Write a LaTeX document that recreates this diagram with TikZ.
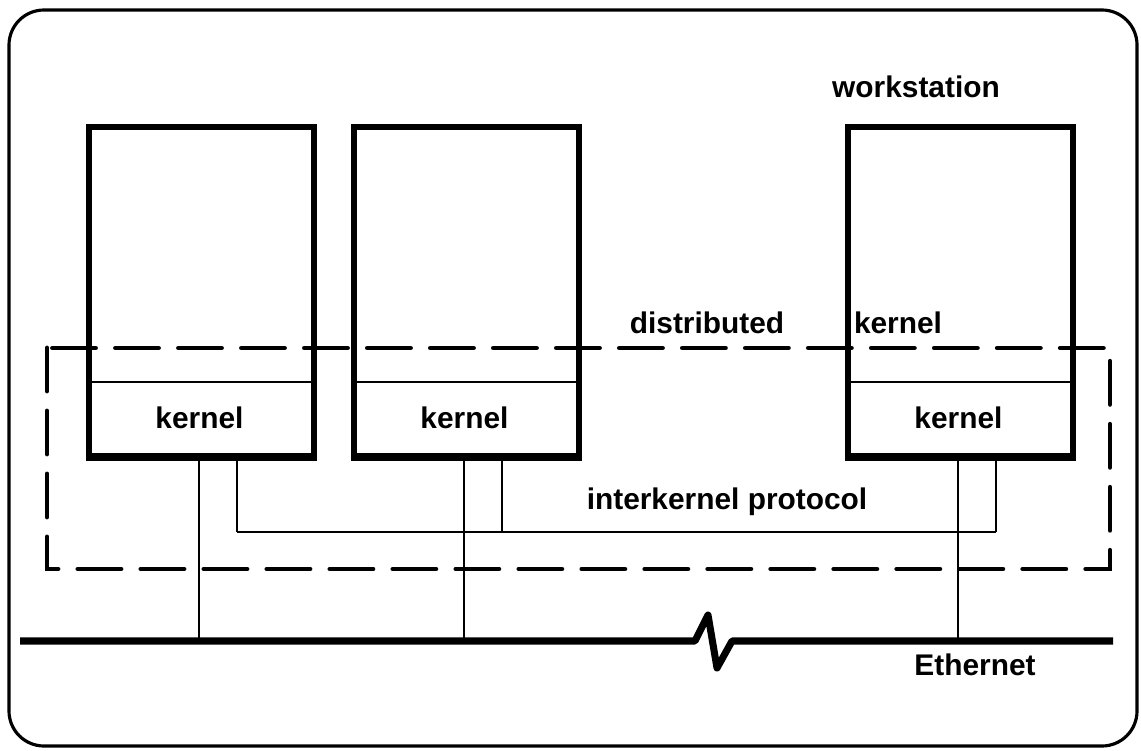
\documentclass[tikz,border=0pt]{standalone}
\usepackage{fontspec}
\setmainfont{Liberation Sans}
\usetikzlibrary{calc}

\tikzset{
  lbl/.style={font=\fontsize{17}{20}\selectfont\bfseries},
  wsbox/.style={draw, line width=3.4pt, minimum width=4.5cm, minimum height=6.62cm,
    anchor=north west, inner sep=0pt},
  kbox/.style={draw, line width=1.1pt, minimum width=4.5cm, minimum height=1.44cm,
    anchor=south west, inner sep=0pt, lbl},
  wire/.style={line width=1.1pt},
  ether/.style={line width=4pt, line join=round},
  distbox/.style={line width=2.8pt, dash pattern=on 0.86cm off 0.4cm, line cap=round},
}

\begin{document}
\begin{tikzpicture}[x=0.02cm, y=-0.02cm]
      \useasboundingbox (0,0) rectangle (1141,750);
      \draw[line width=1.8pt, rounded corners=0.7cm] (9,10) rectangle (1137,746);

      % distributed kernel
      \draw[distbox] (47,348) rectangle (1110,569);

      % workstations
      \foreach \n/\x in {1/86, 2/351, 3/845} {
        \node[wsbox] (ws\n) at (\x,124) {};
        \node[kbox] (k\n) at (\x,455) {kernel};
      }

      % ethernet with break
      \draw[ether] (20,641) coordinate (ethL) -- (695,641) -- (708,615)
        -- (717,668) -- (732,641) -- (1113,641) coordinate (ethR);
      \coordinate (pl) at (0,532);

      \foreach \n in {1,2,3} {
        \coordinate (p\n) at ($(k\n.south)+(38,0)$);
        \draw[wire] (k\n.south) -- (k\n.south |- ethL);
        \draw[wire] (p\n) -- (p\n |- pl);
      }
      \draw[wire] (p1 |- pl) -- (p3 |- pl);

      \node[lbl] (wslbl) at (916,87) {workstation};
      \node[lbl] (dist) at (707,323) {distributed};
      \node[lbl] (distk) at (898,323) {kernel};
      \node[lbl] (ikp) at (727,502) {interkernel protocol};
      \node[lbl] (eth) at (975,665) {Ethernet};
\end{tikzpicture}
\end{document}
